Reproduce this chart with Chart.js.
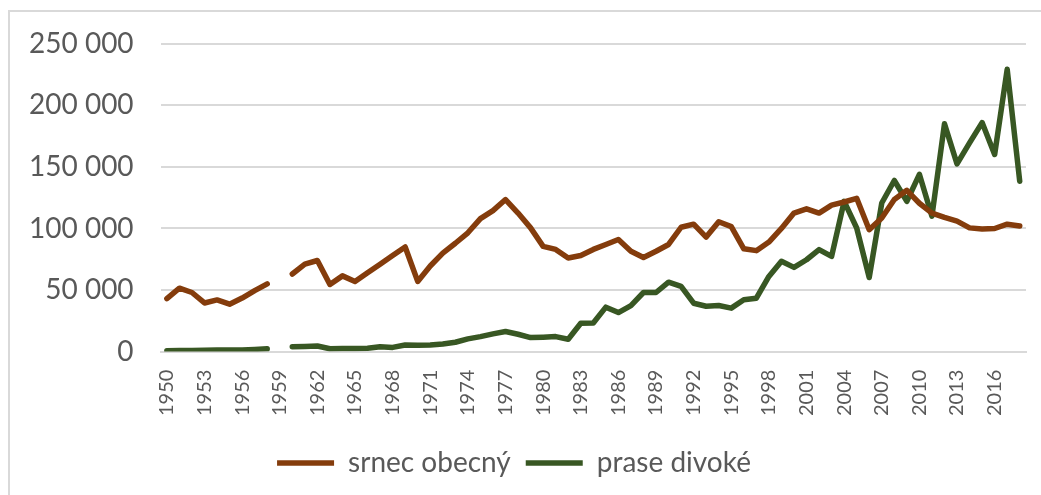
<!DOCTYPE html>
<html>
<head>
<meta charset="utf-8">
<script src="https://cdn.jsdelivr.net/npm/chart.js@4/dist/chart.umd.min.js"></script>
<style>
  html, body { margin: 0; padding: 0; background: #fff; overflow: hidden; }
  #frame { position: absolute; left: 8px; top: 10px; width: 1100px; height: 600px; border: 2px solid #d9d9d9; box-sizing: border-box; }
  #wrap { position: absolute; left: 0; top: 0; width: 1041px; height: 495px; }
</style>
</head>
<body>
<div id="frame"></div>
<div id="wrap"><canvas id="myChart"></canvas></div>
<script>
let years = [1950, 1951, 1952, 1953, 1954, 1955, 1956, 1957, 1958, 1959,
  1960, 1961, 1962, 1963, 1964, 1965, 1966, 1967, 1968, 1969,
  1970, 1971, 1972, 1973, 1974, 1975, 1976, 1977, 1978, 1979,
  1980, 1981, 1982, 1983, 1984, 1985, 1986, 1987, 1988, 1989,
  1990, 1991, 1992, 1993, 1994, 1995, 1996, 1997, 1998, 1999,
  2000, 2001, 2002, 2003, 2004, 2005, 2006, 2007, 2008, 2009,
  2010, 2011, 2012, 2013, 2014, 2015, 2016, 2017, 2018];

// srnec obecny
let srnec = [43000, 51500, 48000, 39500, 42000, 38500, 43500, 49500, 55000, null,
  63000, 71000, 74000, 54500, 61500, 57000, 64000, 71000, 78000, 85000,
  57000, 69500, 80000, 88000, 96500, 108000, 114500, 123500, 112500, 100500,
  85500, 83000, 76000, 78000, 83000, 87000, 91000, 81500, 76500, 81500,
  87000, 101000, 103500, 93000, 105500, 101500, 83500, 82000, 89000, 100000,
  112500, 116000, 112500, 119000, 121500, 124500, 99000, 108500, 123500, 131000,
  120500, 112500, 109000, 106000, 100500, 99500, 100000, 103500, 102000];

// prase divoke
let prase = [700, 800, 900, 1000, 1200, 1300, 1400, 1800, 2300, null,
  4000, 4200, 4500, 2300, 2500, 2600, 2700, 4000, 3400, 5400,
  5200, 5400, 6200, 7600, 10300, 12200, 14400, 16300, 14100, 11400,
  11700, 12200, 10000, 23000, 23300, 36100, 31700, 37400, 48000, 48000,
  56400, 52900, 39300, 36800, 37400, 35300, 42100, 43400, 61000, 73300,
  68400, 74600, 82800, 77300, 122000, 100400, 60200, 120700, 139000, 122100,
  144000, 110000, 185000, 152500, 169600, 186000, 160100, 229300, 138400];

let yTicks = [0, 50000, 100000, 150000, 200000, 250000];

let labelsShown = ['1950', '1953', '1956', '1959', '1962', '1965', '1968', '1971', '1974', '1977', '1980', '1983',
  '1986', '1989', '1992', '1995', '1998', '2001', '2004', '2007', '2010', '2013', '2016'];

let font = 'Lato, "Open Sans", sans-serif';

function spaced(v) {
  return String(v).replace(/\B(?=(\d{3})+(?!\d))/g, ' ');
}

let ctx = document.getElementById('myChart').getContext('2d');

let chart = new Chart(ctx, {
  type: 'line',
  data: {
    labels: years,
    datasets: [{
      label: 'srnec obecný',
      data: srnec,
      borderColor: '#843C0C',
      backgroundColor: '#843C0C',
      borderWidth: 5.5,
      borderCapStyle: 'round',
      borderJoinStyle: 'round',
      pointRadius: 0,
      tension: 0,
      spanGaps: false
    }, {
      label: 'prase divoké',
      data: prase,
      borderColor: '#385723',
      backgroundColor: '#385723',
      borderWidth: 5.5,
      borderCapStyle: 'round',
      borderJoinStyle: 'round',
      pointRadius: 0,
      tension: 0,
      spanGaps: false
    }]
  },
  options: {
    responsive: true,
    maintainAspectRatio: false,
    animation: false,
    layout: {
      padding: { left: 2, right: 15, top: 26, bottom: 8 }
    },
    scales: {
      x: {
        offset: true,
        grid: { display: false, drawTicks: false },
        border: { display: true, color: '#d9d9d9', width: 2 },
        afterFit: function(s) {
          s.paddingLeft = 0;
          s.paddingRight = 0;
        },
        ticks: {
          autoSkip: false,
          minRotation: 90,
          maxRotation: 90,
          padding: 18,
          color: '#595959',
          font: { family: font, size: 20 },
          callback: function(val, i) {
            let lab = String(this.getLabelForValue(val));
            return labelsShown.includes(lab) ? lab : '';
          }
        }
      },
      y: {
        min: 0,
        max: 250000,
        afterBuildTicks: function(axis) {
          axis.ticks = yTicks.map(v => ({ value: v }));
        },
        grid: { color: '#d9d9d9', lineWidth: 2, drawTicks: false },
        border: { display: false },
        ticks: {
          padding: 27,
          color: '#595959',
          font: { family: font, size: 28 },
          callback: v => spaced(v)
        }
      }
    },
    plugins: {
      legend: {
        position: 'bottom',
        labels: {
          usePointStyle: true,
          pointStyle: 'line',
          pointStyleWidth: 57,
          padding: 15,
          color: '#595959',
          font: { family: font, size: 28 }
        }
      },
      tooltip: { enabled: false }
    }
  }
});
</script>
</body>
</html>
